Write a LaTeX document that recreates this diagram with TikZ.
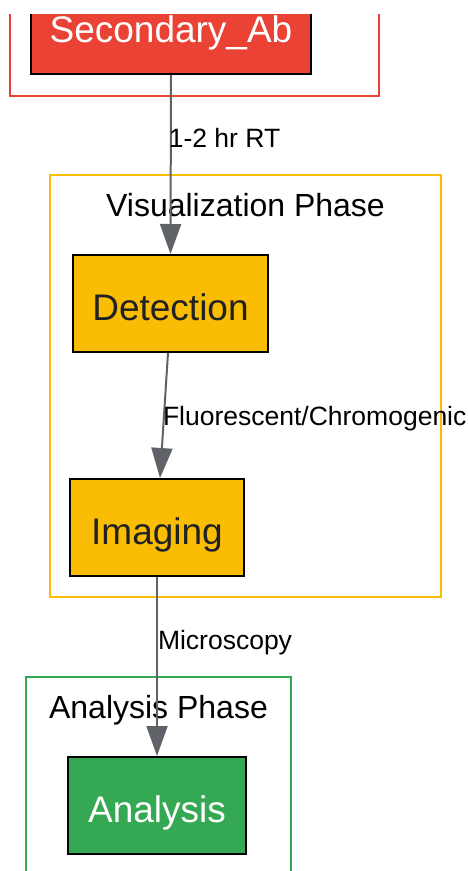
\documentclass[tikz,border=0pt]{standalone}
\usepackage{fontspec}
\setmainfont{Liberation Sans}
\usetikzlibrary{arrows.meta}

\definecolor{gred}{HTML}{EA4335}
\definecolor{gyellow}{HTML}{FBBC04}
\definecolor{ggreen}{HTML}{34A853}
\definecolor{edgegray}{HTML}{5F6368}
\definecolor{darktext}{HTML}{202124}

\begin{document}
\begin{tikzpicture}[x=1pt,y=-1pt,
    phase/.style={draw=#1,line width=2pt,fill=white,inner sep=0pt},
    phaselbl/.style={anchor=north,inner sep=0pt,font=\fontsize{32}{38}\selectfont,
        text height=22.9pt,text depth=0pt,yshift=-19.5pt},
    stepbox/.style={draw=black,line width=2pt,fill=#1,minimum height=97pt,inner sep=0pt,
        font=\fontsize{37}{44}\selectfont,text height=35pt,text depth=2pt},
    edgelbl/.style={anchor=west,inner sep=0pt,text=black,font=\fontsize{26.5}{32}\selectfont,
        text height=19pt,text depth=0pt},
    flow/.style={-{Triangle[length=30pt,width=21pt]},edgegray,line width=2pt}]

    \useasboundingbox (0,0) rectangle (468,871);
    \clip (0,14) rectangle (468,871);

    % Phase frames
    \node[phase=gred,minimum width=369pt,minimum height=136pt] (primph) at (194.5,28) {};
    \node[phase=gyellow,minimum width=391pt,minimum height=422pt] (visph) at (245.5,386) {};
    \node[phaselbl] at (visph.north) {Visualization Phase};
    \node[phase=ggreen,minimum width=265pt,minimum height=240pt] (anaph) at (158.5,797) {};
    \node[phaselbl] at (anaph.north) {Analysis Phase};

    % Steps
    \node[stepbox=gred,minimum width=280pt,text=white] (sec) at (171,25.5) {Secondary\_Ab};
    \node[stepbox=gyellow,minimum width=195pt,text=darktext] (det) at (170.5,303.5) {Detection};
    \node[stepbox=gyellow,minimum width=174pt,text=darktext] (img) at (157,527.5) {Imaging};
    \node[stepbox=ggreen,minimum width=178pt,text=white] (ana) at (157,805.5) {Analysis};

    % Connections
    \draw[flow] (sec.south) -- (det.north)
        node[edgelbl,pos=0.35,xshift=-3pt] {1-2 hr RT};
    \draw[flow] ([xshift=-2.5pt]det.south) -- ([xshift=3pt]img.north)
        node[edgelbl,midway,xshift=-2pt] {Fluorescent/Chromogenic};
    \draw[flow] (img.south) -- (ana.north)
        node[edgelbl,pos=0.35] {Microscopy};
\end{tikzpicture}
\end{document}
